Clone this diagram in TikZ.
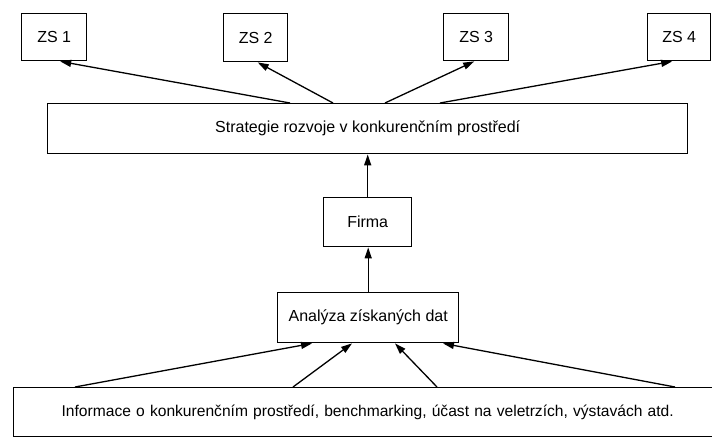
\documentclass[tikz,border=0pt]{standalone}
\usepackage{fontspec}
\setmainfont{Liberation Sans}
\usetikzlibrary{arrows.meta}
\begin{document}
\begin{tikzpicture}[x=1pt,y=-1pt,
  box/.style={draw, line width=1.4pt, inner sep=0pt, anchor=north west,
    font=\fontsize{16}{19}\selectfont, align=center},
  link/.style={line width=1.3pt, -{Triangle[length=11pt,width=7pt]}}]
  \useasboundingbox (0,0) rectangle (712,439);
  \clip (0,0) rectangle (712,439);

  % goal strategies
  \node[box, minimum width=65pt, minimum height=47pt] (zs1) at (21,13) {ZS 1};
  \node[box, minimum width=64pt, minimum height=48pt] (zs2) at (223,13) {ZS 2};
  \node[box, minimum width=65pt, minimum height=47pt] (zs3) at (443,13) {ZS 3};
  \node[box, minimum width=63pt, minimum height=47pt] (zs4) at (647,13) {ZS 4};

  % central chain
  \node[box, minimum width=640pt, minimum height=50pt] (strat) at (47,103)
    {Strategie rozvoje v konkurenčním prostředí};
  \node[box, minimum width=88pt, minimum height=49pt] (firma) at (323,197) {Firma};
  \node[box, minimum width=181pt, minimum height=50pt] (anal) at (277,292)
    {Analýza získaných dat};
  \node[box, minimum width=704pt, minimum height=49pt, text width=704pt,
    font=\fontsize{15.6}{19}\selectfont] (info) at (13,387)
    {\hspace*{4pt}Informace o konkurenčním prostředí, benchmarking, účast na veletrzích, výstavách atd.};

  % strategy -> goal strategies
  \draw[link] ([xshift=243pt]strat.north west) -- ([xshift=6pt]zs1.south);
  \draw[link] ([xshift=286pt]strat.north west) -- ([xshift=2pt]zs2.south);
  \draw[link] ([xshift=338pt]strat.north west) -- ([xshift=-2pt]zs3.south);
  \draw[link] ([xshift=393pt]strat.north west) -- ([xshift=-7pt]zs4.south);

  % upward chain
  \draw[link] (firma.north) -- (firma.north |- strat.south);
  \draw[link] (anal.north) -- (anal.north |- firma.south);

  % information sources -> analysis
  \draw[link] ([xshift=62pt]info.north west) -- ([xshift=35pt]anal.south west);
  \draw[link] ([xshift=280pt]info.north west) -- ([xshift=75pt]anal.south west);
  \draw[link] ([xshift=424pt]info.north west) -- ([xshift=118pt]anal.south west);
  \draw[link] ([xshift=662pt]info.north west) -- ([xshift=166pt]anal.south west);
\end{tikzpicture}
\end{document}
